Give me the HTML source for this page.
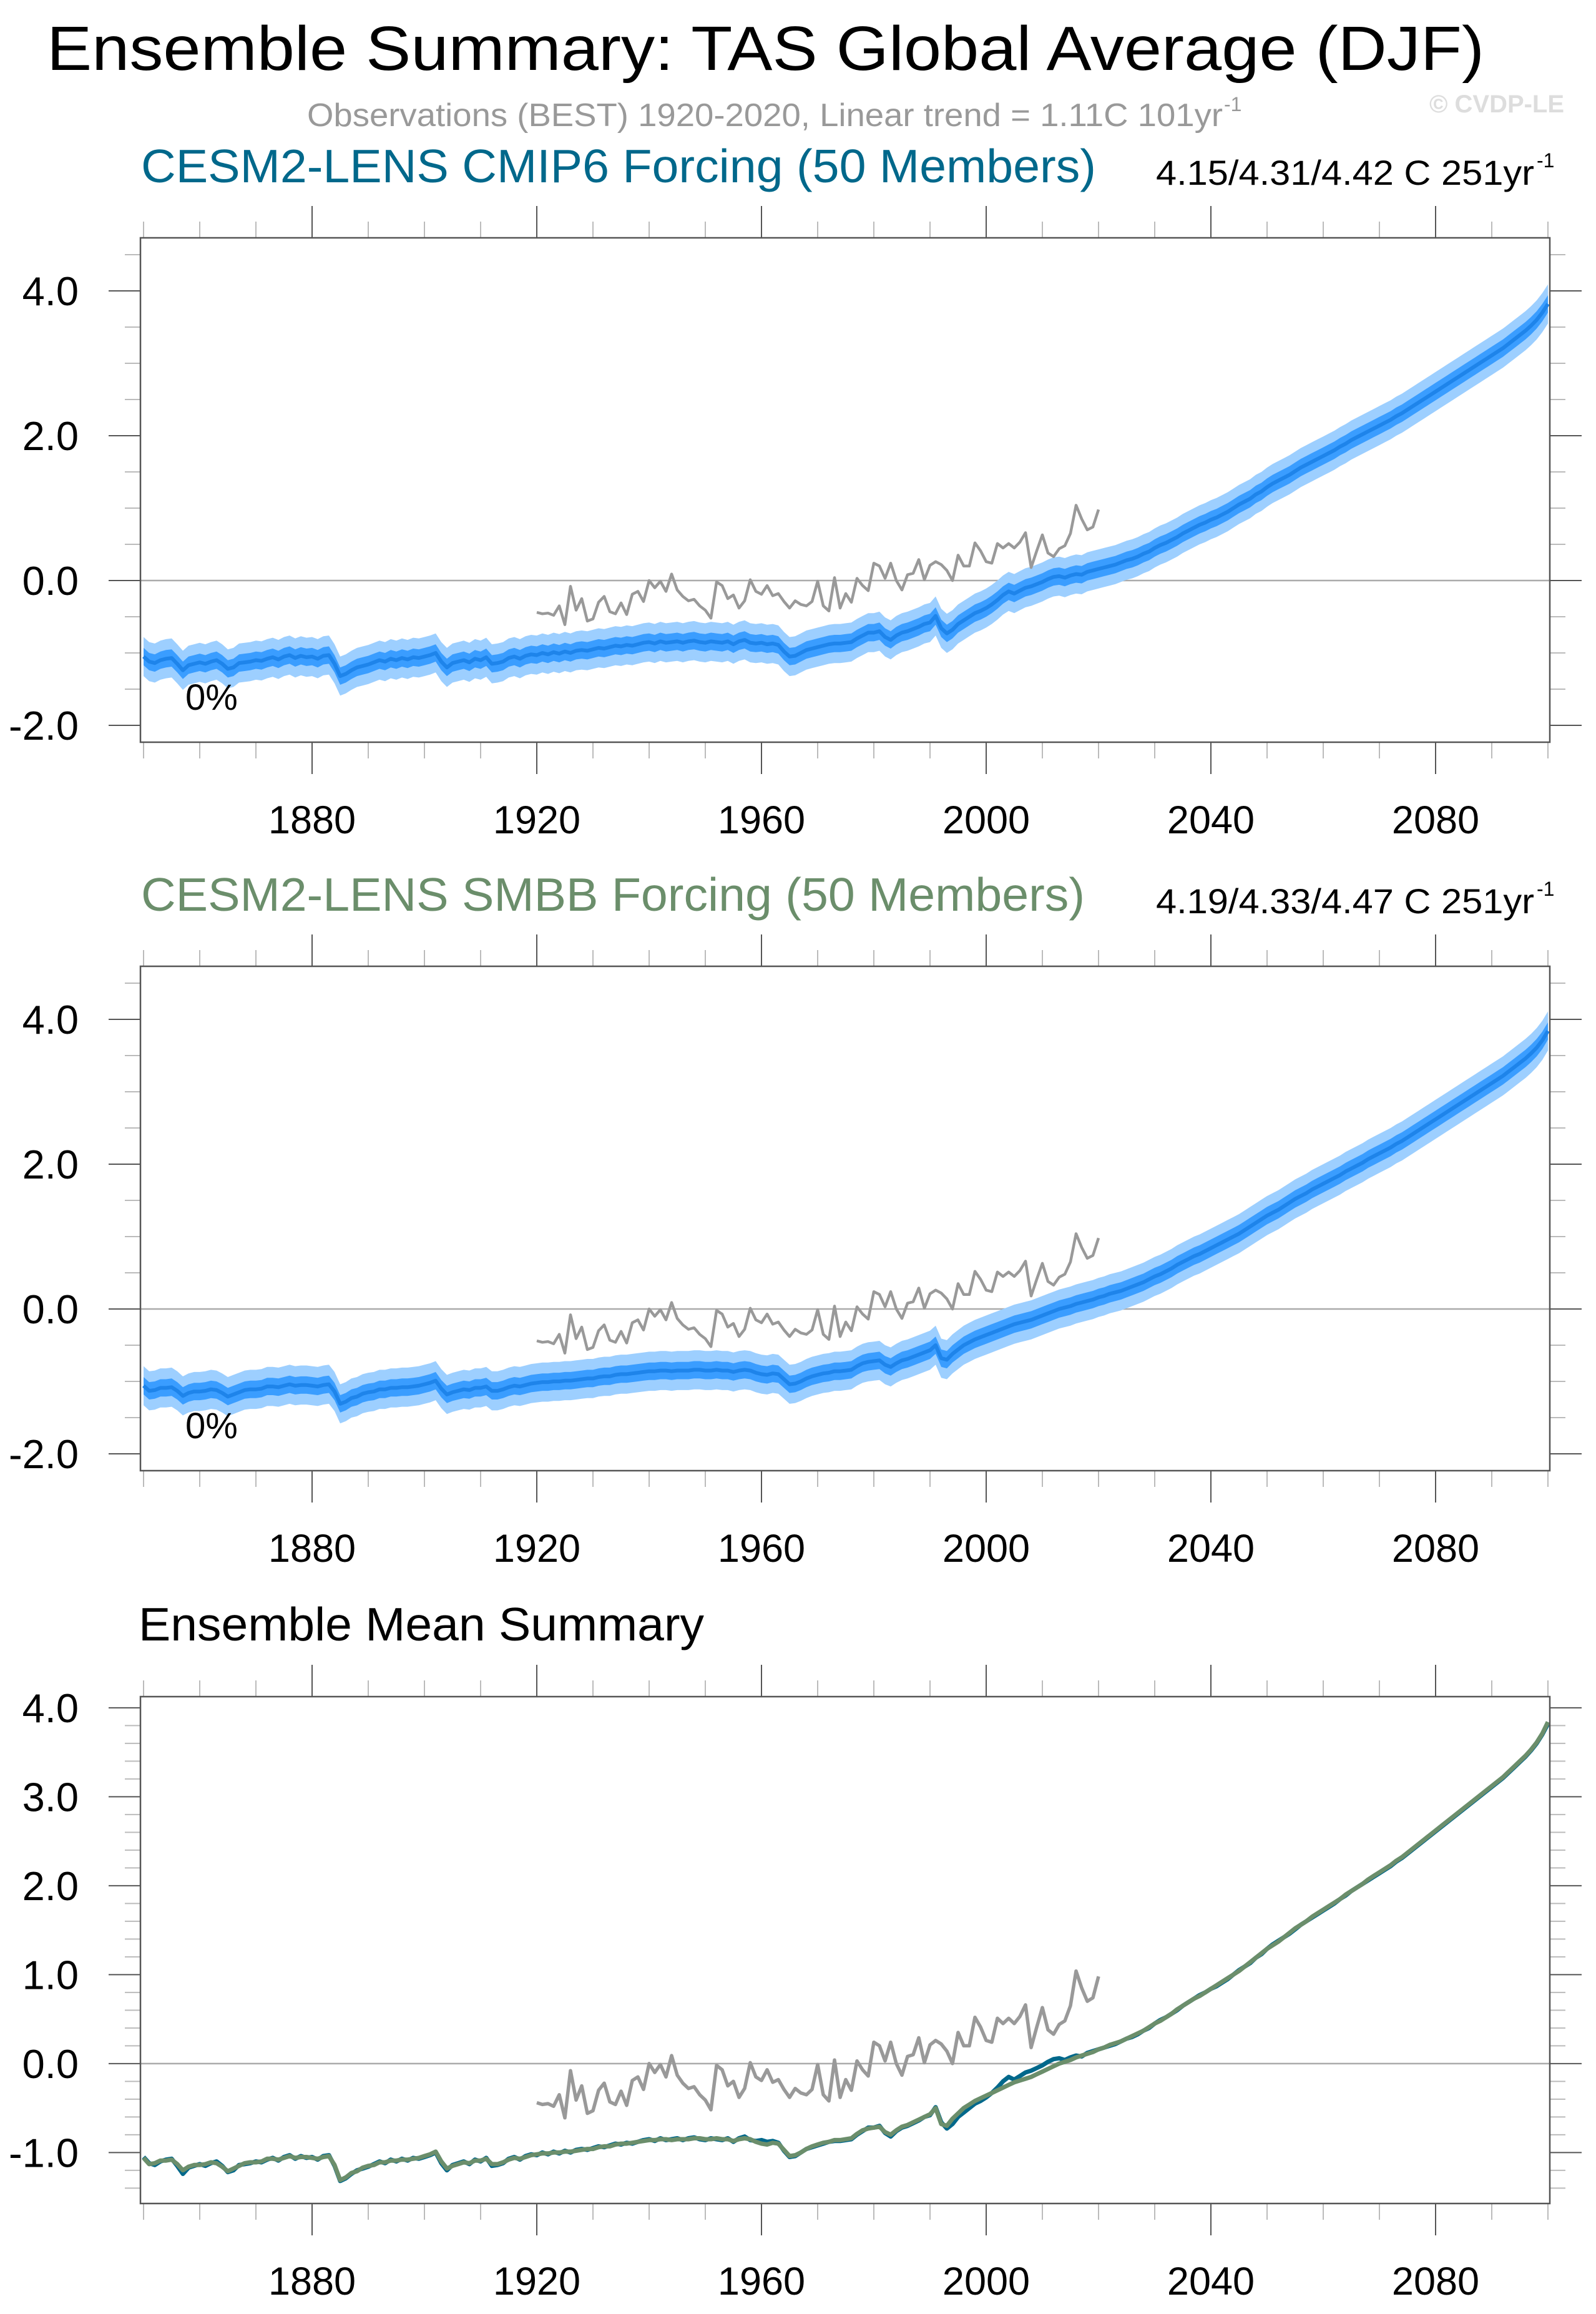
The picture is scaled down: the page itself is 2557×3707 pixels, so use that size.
<!DOCTYPE html>
<html><head><meta charset="utf-8"><title>Ensemble Summary: TAS Global Average (DJF)</title>
<style>html,body{margin:0;padding:0;background:#fff}svg{display:block}text{font-family:"Liberation Sans",sans-serif}</style></head>
<body>
<svg id="chart" xmlns="http://www.w3.org/2000/svg" width="2557" height="3707" viewBox="0 0 2557 3707">
<rect x="0" y="0" width="2557" height="3707" fill="#fff"/>
<text x="75" y="112" font-size="100" textLength="2303" lengthAdjust="spacingAndGlyphs" fill="#000">Ensemble Summary: TAS Global Average (DJF)</text>
<text x="492" y="202" font-size="52" textLength="1467" lengthAdjust="spacingAndGlyphs" fill="#999">Observations (BEST) 1920-2020, Linear trend = 1.11C 101yr</text>
<text x="1961" y="178" font-size="32" fill="#999">-1</text>
<text x="2290" y="180" font-size="40" font-weight="bold" textLength="216" lengthAdjust="spacingAndGlyphs" fill="#ddd">© CVDP-LE</text>

<text x="226" y="292" font-size="75" textLength="1530" lengthAdjust="spacingAndGlyphs" fill="#00688b">CESM2-LENS CMIP6 Forcing (50 Members)</text>
<text x="1852" y="296" font-size="56" textLength="606" lengthAdjust="spacingAndGlyphs" fill="#000">4.15/4.31/4.42 C 251yr</text>
<text x="2462" y="268" font-size="32" fill="#000">-1</text>

<text x="226" y="1459" font-size="75" textLength="1512" lengthAdjust="spacingAndGlyphs" fill="#6b8e6b">CESM2-LENS SMBB Forcing (50 Members)</text>
<text x="1852" y="1463" font-size="56" textLength="606" lengthAdjust="spacingAndGlyphs" fill="#000">4.19/4.33/4.47 C 251yr</text>
<text x="2462" y="1435" font-size="32" fill="#000">-1</text>

<text x="222" y="2628" font-size="75" textLength="906" lengthAdjust="spacingAndGlyphs" fill="#000">Ensemble Mean Summary</text>
</svg>
<script>
// ---- data ----
const startYear = 1850;
const cmip6Mean = [
-1.05,-1.12,-1.14,-1.10,-1.08,-1.07,-1.15,-1.24,-1.17,-1.15,
-1.13,-1.15,-1.12,-1.10,-1.15,-1.22,-1.20,-1.14,-1.13,-1.12,
-1.10,-1.11,-1.08,-1.06,-1.09,-1.05,-1.03,-1.07,-1.04,-1.06,
-1.05,-1.08,-1.04,-1.03,-1.15,-1.32,-1.29,-1.24,-1.20,-1.18,
-1.16,-1.13,-1.10,-1.12,-1.08,-1.10,-1.07,-1.09,-1.06,-1.07,
-1.05,-1.03,-1.00,-1.12,-1.20,-1.14,-1.12,-1.10,-1.13,-1.08,
-1.10,-1.06,-1.15,-1.14,-1.12,-1.07,-1.05,-1.08,-1.04,-1.02,
-1.03,-1.00,-1.02,-0.99,-1.01,-0.98,-1.00,-0.97,-0.96,-0.97,
-0.95,-0.93,-0.94,-0.92,-0.90,-0.91,-0.89,-0.90,-0.88,-0.86,
-0.85,-0.87,-0.84,-0.86,-0.85,-0.84,-0.86,-0.84,-0.83,-0.85,
-0.86,-0.84,-0.85,-0.86,-0.84,-0.88,-0.84,-0.82,-0.86,-0.87,
-0.86,-0.88,-0.87,-0.89,-0.98,-1.05,-1.04,-1.00,-0.96,-0.94,
-0.92,-0.90,-0.88,-0.87,-0.87,-0.86,-0.85,-0.80,-0.76,-0.72,
-0.72,-0.70,-0.78,-0.82,-0.76,-0.72,-0.70,-0.67,-0.64,-0.60,
-0.58,-0.49,-0.66,-0.73,-0.68,-0.60,-0.55,-0.50,-0.45,-0.42,
-0.38,-0.33,-0.27,-0.20,-0.15,-0.18,-0.14,-0.10,-0.08,-0.05,
-0.02,0.02,0.05,0.06,0.04,0.07,0.09,0.08,0.12,0.14,
0.16,0.18,0.20,0.22,0.25,0.28,0.30,0.33,0.37,0.40,
0.45,0.49,0.52,0.56,0.60,0.65,0.69,0.73,0.77,0.80,
0.84,0.87,0.91,0.95,1.00,1.05,1.09,1.13,1.19,1.23,
1.29,1.34,1.38,1.42,1.46,1.51,1.56,1.60,1.64,1.68,
1.72,1.76,1.80,1.85,1.89,1.94,1.98,2.02,2.06,2.10,
2.14,2.18,2.22,2.27,2.31,2.36,2.41,2.46,2.51,2.56,
2.61,2.66,2.71,2.76,2.81,2.86,2.91,2.96,3.01,3.06,
3.11,3.16,3.21,3.27,3.33,3.39,3.45,3.52,3.60,3.70,
3.82];
const smbbMean = [
-1.06,-1.13,-1.12,-1.09,-1.09,-1.08,-1.13,-1.20,-1.16,-1.14,
-1.14,-1.13,-1.11,-1.12,-1.16,-1.21,-1.18,-1.15,-1.12,-1.11,
-1.11,-1.10,-1.07,-1.07,-1.08,-1.06,-1.04,-1.06,-1.05,-1.05,
-1.06,-1.07,-1.05,-1.04,-1.14,-1.31,-1.28,-1.23,-1.21,-1.17,
-1.15,-1.14,-1.11,-1.11,-1.09,-1.09,-1.08,-1.08,-1.07,-1.06,
-1.04,-1.02,-0.99,-1.10,-1.18,-1.15,-1.13,-1.11,-1.12,-1.09,
-1.09,-1.07,-1.13,-1.13,-1.11,-1.08,-1.06,-1.07,-1.05,-1.03,
-1.02,-1.01,-1.01,-1.00,-1.00,-0.99,-0.99,-0.98,-0.97,-0.96,
-0.96,-0.94,-0.93,-0.93,-0.91,-0.90,-0.90,-0.89,-0.88,-0.87,
-0.86,-0.86,-0.85,-0.85,-0.86,-0.85,-0.85,-0.85,-0.84,-0.84,
-0.85,-0.85,-0.84,-0.85,-0.85,-0.87,-0.85,-0.84,-0.85,-0.88,
-0.90,-0.91,-0.89,-0.90,-0.97,-1.04,-1.03,-1.00,-0.96,-0.93,
-0.91,-0.89,-0.88,-0.86,-0.86,-0.85,-0.84,-0.79,-0.75,-0.73,
-0.72,-0.71,-0.77,-0.80,-0.75,-0.71,-0.69,-0.66,-0.63,-0.60,
-0.57,-0.50,-0.68,-0.70,-0.62,-0.56,-0.50,-0.46,-0.42,-0.39,
-0.36,-0.33,-0.30,-0.27,-0.24,-0.21,-0.19,-0.17,-0.15,-0.12,
-0.09,-0.06,-0.03,0.00,0.02,0.04,0.07,0.09,0.11,0.13,
0.16,0.18,0.21,0.23,0.25,0.28,0.31,0.34,0.37,0.41,
0.45,0.48,0.52,0.56,0.61,0.65,0.69,0.73,0.76,0.80,
0.84,0.88,0.92,0.96,1.00,1.04,1.09,1.14,1.19,1.24,
1.29,1.33,1.37,1.42,1.47,1.52,1.56,1.60,1.65,1.69,
1.73,1.77,1.81,1.85,1.90,1.94,1.98,2.02,2.07,2.11,
2.15,2.19,2.23,2.28,2.32,2.37,2.42,2.47,2.52,2.57,
2.62,2.67,2.72,2.77,2.82,2.87,2.92,2.97,3.02,3.07,
3.12,3.17,3.22,3.28,3.34,3.40,3.46,3.53,3.61,3.71,
3.84];
const obsStartYear = 1920;
const obsValues = [
-0.44,-0.46,-0.45,-0.48,-0.35,-0.61,-0.08,-0.41,-0.25,-0.56,
-0.53,-0.30,-0.22,-0.43,-0.46,-0.31,-0.47,-0.19,-0.15,-0.29,
0.00,-0.10,-0.01,-0.15,0.09,-0.13,-0.22,-0.28,-0.26,-0.35,
-0.41,-0.52,-0.02,-0.07,-0.25,-0.20,-0.38,-0.28,0.01,-0.15,
-0.19,-0.07,-0.21,-0.18,-0.29,-0.38,-0.28,-0.33,-0.35,-0.29,
-0.01,-0.35,-0.42,0.04,-0.38,-0.18,-0.30,0.03,-0.07,-0.14,
0.24,0.20,0.03,0.24,0.00,-0.13,0.08,0.10,0.29,0.01,
0.21,0.26,0.22,0.14,0.00,0.35,0.20,0.20,0.52,0.41,
0.26,0.24,0.51,0.45,0.51,0.45,0.53,0.66,0.18,0.41,
0.63,0.38,0.33,0.44,0.48,0.65,1.04,0.85,0.70,0.74,
0.98];
const innerSpread = 0.12;   // half-width of inner (dark) ensemble band, °C
const outerSpread = 0.27;   // half-width of outer (light) ensemble band, °C
const xTickYears = [1880,1920,1960,2000,2040,2080];
const yTicksTop = [-2,0,2,4];
const yTickLabelsTop = ["-2.0","0.0","2.0","4.0"];
const yTicksBottom = [-1,0,1,2,3,4];
const yTickLabelsBottom = ["-1.0","0.0","1.0","2.0","3.0","4.0"];

// ---- drawing ----
const svg = document.getElementById('chart');
const NS = 'http://www.w3.org/2000/svg';
const X0 = 225, X1 = 2483;
function xScale(yr){ return 230 + (yr - 1850) * 9.0; }
function mk(tag, attrs, parent){
  const e = document.createElementNS(NS, tag);
  for (const k in attrs) e.setAttribute(k, attrs[k]);
  (parent || svg).appendChild(e);
  return e;
}
function makeY(p){ return v => p.top + (p.ymax - v) / (p.ymax - p.ymin) * (p.bottom - p.top); }

function drawAxes(p, g, yT, yL, minorStep){
  const y = makeY(p);
  for (let yr = 1850; yr <= 2100; yr += 10){
    const major = (yr - 1880) % 40 === 0;
    const len = major ? 51 : 26;
    const col = major ? '#555' : '#bbb';
    const t1 = mk('line', {x1:xScale(yr), x2:xScale(yr), y1:p.bottom, y2:p.bottom+len, stroke:col, 'stroke-width':2}, g);
    
    
    const t2 = mk('line', {x1:xScale(yr), x2:xScale(yr), y1:p.top, y2:p.top-len, stroke:col, 'stroke-width':2}, g);
    
    
  }
  const n0 = Math.ceil(p.ymin / minorStep - 1e-6), n1 = Math.floor(p.ymax / minorStep + 1e-6);
  for (let i = n0; i <= n1; i++){
    const v = i * minorStep;
    const major = yT.some(t => Math.abs(t - v) < 1e-6);
    const len = major ? 51 : 25;
    const col = major ? '#555' : '#bbb';
    const a = mk('line', {x1:X0-len, x2:X0, y1:y(v), y2:y(v), stroke:col, 'stroke-width':2}, g);
    
    
    const b = mk('line', {x1:X1, x2:X1+len, y1:y(v), y2:y(v), stroke:col, 'stroke-width':2}, g);
    
    
  }
  yT.forEach((v, i) => {
    const t = mk('text', {x:126, y:y(v)+23, 'font-size':65, 'text-anchor':'end', fill:'#000'}, g);
    
    
    t.textContent = yL[i];
  });
  xTickYears.forEach(yr => {
    const t = mk('text', {x:xScale(yr), y:p.bottom+146, 'font-size':63, 'text-anchor':'middle', fill:'#000'}, g);
    
    
    t.textContent = String(yr);
  });
  const z = mk('line', {x1:X0, x2:X1, y1:y(0), y2:y(0), stroke:'#aaa', 'stroke-width':2.5}, g);
  
  
}
function linePath(vals, y0, y){
  return vals.map((v, i) => (i ? 'L' : 'M') + xScale(y0 + i).toFixed(1) + ' ' + y(v).toFixed(1)).join(' ');
}
function bandPath(vals, half, y){
  const up = vals.map((v, i) => (i ? 'L' : 'M') + xScale(startYear + i).toFixed(1) + ' ' + y(v + half).toFixed(1));
  const dn = vals.map((v, i) => 'L' + xScale(startYear + i).toFixed(1) + ' ' + y(v - half).toFixed(1)).reverse();
  return up.join(' ') + ' ' + dn.join(' ') + ' Z';
}
function frame(p, g){
  const f = mk('rect', {x:X0, y:p.top, width:X1-X0, height:p.bottom-p.top, fill:'none', stroke:'#555', 'stroke-width':2.5}, g);
  
  
}

function ensemblePanel(p, mean, name){
  const g = mk('g', {});
  
  
  const y = makeY(p);
  drawAxes(p, g, yTicksTop, yTickLabelsTop, 0.5);
  const o = mk('path', {d:bandPath(mean, outerSpread, y), fill:'#9dcfff', stroke:'none'}, g);
  
  
  const inn = mk('path', {d:bandPath(mean, innerSpread, y), fill:'#3a9dff', stroke:'none'}, g);
  
  
  const m = mk('path', {d:linePath(mean, startYear, y), fill:'none', stroke:'#1e84ea', 'stroke-width':6, 'stroke-linejoin':'round'}, g);
  
  
  const ob = mk('path', {d:linePath(obsValues, obsStartYear, y), fill:'none', stroke:'#999', 'stroke-width':4.5, 'stroke-linejoin':'round'}, g);
  
  
  const pc = mk('text', {x:297, y:p.bottom-52, 'font-size':58, fill:'#000'}, g);
  
  
  pc.textContent = '0%';
  frame(p, g);
}

ensemblePanel({top:381, bottom:1189, ymin:-2.233, ymax:4.733}, cmip6Mean, 'cmip6-panel');
ensemblePanel({top:1548, bottom:2356, ymin:-2.233, ymax:4.733}, smbbMean, 'smbb-panel');

(function(){
  const p = {top:2718, bottom:3530, ymin:-1.573, ymax:4.125};
  const g = mk('g', {});
  
  
  const y = makeY(p);
  drawAxes(p, g, yTicksBottom, yTickLabelsBottom, 0.2);
  const ob = mk('path', {d:linePath(obsValues, obsStartYear, y), fill:'none', stroke:'#999', 'stroke-width':5.5, 'stroke-linejoin':'round'}, g);
  
  
  const a = mk('path', {d:linePath(cmip6Mean, startYear, y), fill:'none', stroke:'#00688b', 'stroke-width':7, 'stroke-linejoin':'round'}, g);
  
  
  const b = mk('path', {d:linePath(smbbMean, startYear, y), fill:'none', stroke:'#6b8e6b', 'stroke-width':7, 'stroke-linejoin':'round'}, g);
  
  
  frame(p, g);
})();
</script>
</body></html>
